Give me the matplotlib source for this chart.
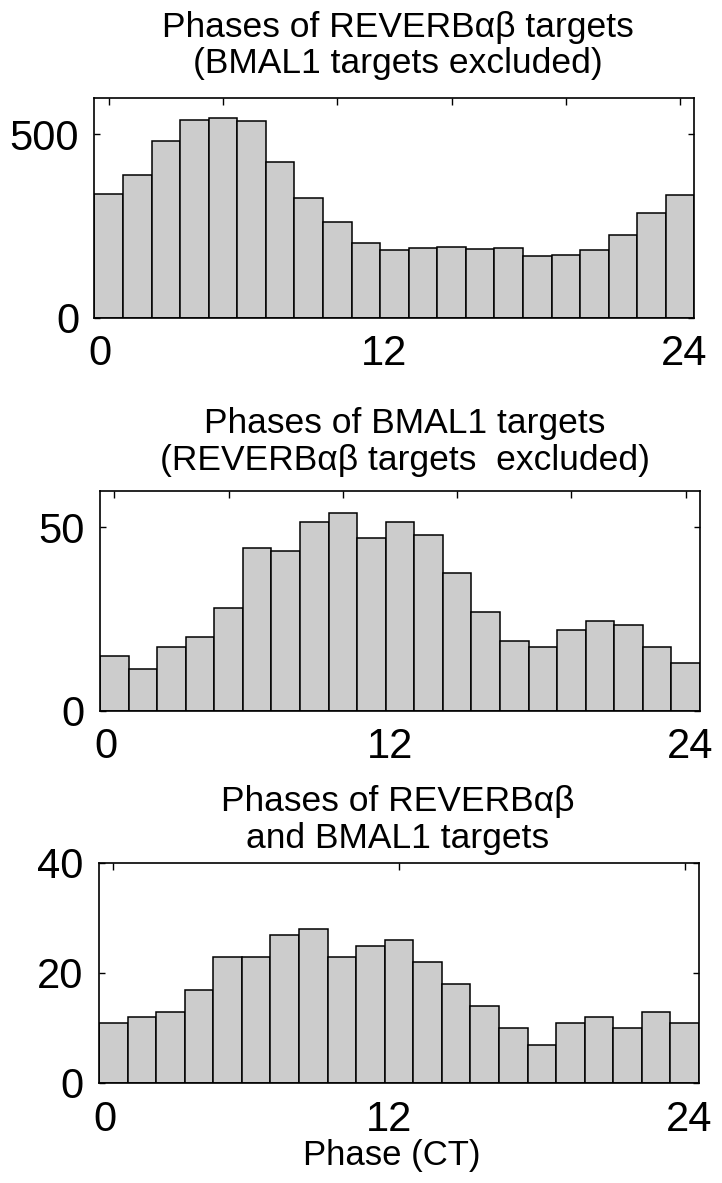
import numpy as np
import matplotlib
matplotlib.use("Agg")
import matplotlib.pyplot as plt

plt.rcParams['font.family'] = ['Liberation Sans', 'DejaVu Sans']

# ---- data ----
n_bins = 21
phase_range = (0, 24)
edges = np.linspace(phase_range[0], phase_range[1], n_bins + 1)

reverb_only = [337, 388, 482, 538, 544, 537, 423, 325, 260, 203, 183,
               189, 192, 186, 190, 167, 171, 185, 225, 285, 335]
bmal1_only = [15, 11.5, 17.5, 20, 28, 44.5, 43.5, 51.5, 54, 47, 51.5,
              48, 37.5, 27, 19, 17.5, 22, 24.5, 23.5, 17.5, 13]
both = [11, 12, 13, 17, 23, 23, 27, 28, 23, 25, 26,
        22, 18, 14, 10, 7, 11, 12, 10, 13, 11]

titles = [["Phases of REVERB\u03b1\u03b2 targets", "(BMAL1 targets excluded)"],
          ["Phases of BMAL1 targets", "(REVERB\u03b1\u03b2 targets  excluded)"],
          ["Phases of REVERB\u03b1\u03b2", "and BMAL1 targets"]]
ylims = [600, 60, 40]
yticks = [[0, 500], [0, 50], [0, 20, 40]]
xtick_labels = ["0", "12", "24"]
xlabel = "Phase (CT)"

W, H = 722, 1183
fig = plt.figure(figsize=(W / 100, H / 100), dpi=100)

# axes rects in pixels: left, right, top, bottom
rects = [(94.4, 694.4, 97.5, 317.5), (100, 700, 490.7, 710.7), (99, 699, 863, 1083)]
title_baselines = [(36.7, 73.3), (433, 470), (811.5, 848)]
title_cx = [398, 405, 398]
top_tick_bins = [[0, 4, 8, 12, 16, 20], [0, 4, 8, 12, 16, 20], [0, 10, 20]]
label_pos = [0.22, 11.6, 23.6]

centers = (edges[:-1] + edges[1:]) / 2
widths = np.diff(edges)

for i, vals in enumerate([reverb_only, bmal1_only, both]):
    l, r, t, b = rects[i]
    ax = fig.add_axes([l / W, 1 - b / H, (r - l) / W, (b - t) / H])
    ax.bar(edges[:-1], vals, width=widths, align='edge', color='#cccccc',
           edgecolor='black', linewidth=1.1, zorder=2)
    ax.set_xlim(phase_range)
    ax.set_ylim(0, ylims[i])
    ax.set_yticks(yticks[i])
    ax.set_yticklabels([str(v) for v in yticks[i]])
    ax.set_xticks(label_pos)
    ax.set_xticklabels(xtick_labels)
    ax.tick_params(axis='x', which='major', length=0, pad=12, labelsize=30)
    ax.tick_params(axis='y', which='major', direction='in', length=4,
                   width=1, right=True, labelsize=30, pad=11)
    ax.set_xticks(centers[top_tick_bins[i]], minor=True)
    ax.tick_params(axis='x', which='minor', direction='in', length=5,
                   width=1, top=True, bottom=False)
    for s in ax.spines.values():
        s.set_linewidth(1.2)
        s.set_zorder(3)
    for line, yb in zip(titles[i], title_baselines[i]):
        fig.text(title_cx[i] / W, 1 - yb / H, line, ha='center',
                 va='baseline', fontsize=25.5)

fig.text(392 / W, 1 - 1165 / H, xlabel, ha='center',
         va='baseline', fontsize=25)

fig.savefig("out.png", dpi=100)
